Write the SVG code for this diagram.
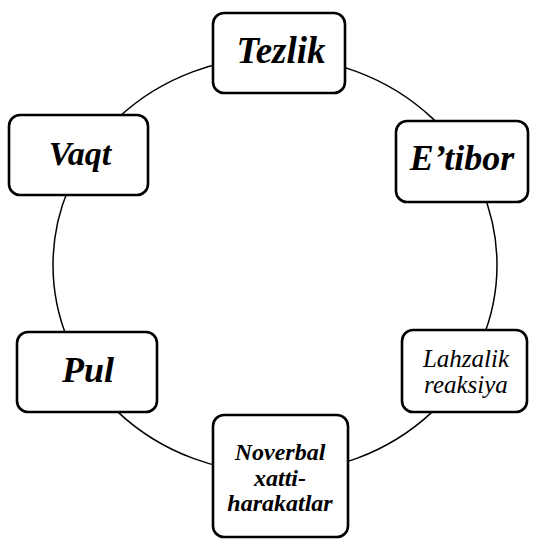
<svg xmlns="http://www.w3.org/2000/svg" width="533" height="540" viewBox="0 0 533 540">
<style>
.box{fill:#fff;stroke:#000;stroke-width:2.6}
.conn{fill:none;stroke:#000;stroke-width:1.5}
text{font-family:'Liberation Serif','DejaVu Serif',serif;font-style:italic;font-weight:bold;text-anchor:middle;fill:#000}
.r{font-weight:normal}
</style>
<rect width="533" height="540" fill="#fff"/>
<g id="connectors">
<ellipse class="conn" cx="275" cy="265" rx="222" ry="208"/>
</g>
<g id="tezlik">
<rect class="box" x="213" y="13" width="132" height="80" rx="11"/>
<text x="281" y="63" font-size="37" font-family="Liberation Serif, serif">Tezlik</text>
</g>
<g id="vaqt">
<rect class="box" x="9" y="115" width="139" height="80" rx="11"/>
<text x="80" y="165" font-size="34" font-family="Liberation Serif, serif">Vaqt</text>
</g>
<g id="etibor">
<rect class="box" x="396" y="121" width="132" height="81" rx="11"/>
<text x="462" y="170" font-size="36" font-family="Liberation Serif, serif">E’tibor</text>
</g>
<g id="pul">
<rect class="box" x="17" y="332" width="140" height="80" rx="11"/>
<text x="88" y="382" font-size="36" font-family="Liberation Serif, serif">Pul</text>
</g>
<g id="lahzalik">
<rect class="box" x="402" y="330" width="125" height="82" rx="11"/>
<text class="r" x="466" y="367" font-size="25" font-family="Liberation Serif, serif">Lahzalik</text>
<text class="r" x="466" y="393" font-size="25" font-family="Liberation Serif, serif">reaksiya</text>
</g>
<g id="noverbal">
<rect class="box" x="213" y="415" width="135" height="122" rx="11"/>
<text x="280" y="460" font-size="24" font-family="Liberation Serif, serif">Noverbal</text>
<text x="280" y="486" font-size="24" font-family="Liberation Serif, serif">xatti-</text>
<text x="280" y="511" font-size="24" font-family="Liberation Serif, serif">harakatlar</text>
</g>
</svg>
